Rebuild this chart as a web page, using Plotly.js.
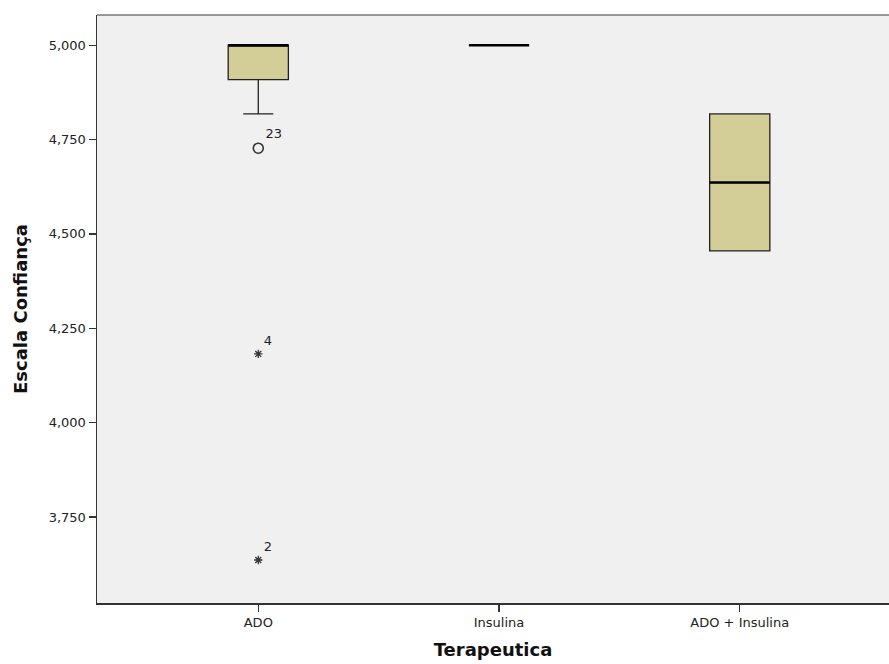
<!DOCTYPE html>
<html><head><meta charset="utf-8">
<script src="https://cdn.plot.ly/plotly-3.0.1.min.js"></script>
<style>html,body{margin:0;padding:0;background:#fff}</style>
</head><body><div id="chart" style="width:889px;height:664px"></div>
<script>
const categories = ["ADO", "Insulina", "ADO + Insulina"];
const q1 = [4.909, 5.0, 4.455];
const median = [5.0, 5.0, 4.636];
const q3 = [5.0, 5.0, 4.818];
const lowerFence = [4.818, 5.0, 4.455];
const upperFence = [5.0, 5.0, 4.818];
// outliers: category index, value, case label, type
const outlierCat = [0, 0, 0];
const outlierVal = [4.727, 4.182, 3.636];
const outlierLabel = ["23", "4", "2"];
const outlierType = ["mild", "extreme", "extreme"];
const yTickVals = [3.75, 4.0, 4.25, 4.5, 4.75, 5.0];
const yTickText = ["3,750", "4,000", "4,250", "4,500", "4,750", "5,000"];

const idx = categories.map((c, i) => i);
const boxW = 0.25;
const F = 'DejaVu Sans, Liberation Sans, Arial, sans-serif';
const traces = [{
  type: 'box', x: idx, q1: q1, median: median, q3: q3,
  lowerfence: lowerFence, upperfence: upperFence,
  width: boxW, whiskerwidth: 0.5,
  fillcolor: 'rgb(211,206,151)',
  line: {color: '#222', width: 1.3},
  boxpoints: false, hoverinfo: 'skip', showlegend: false
}];
// thicker median lines
const mx = [], my = [];
idx.forEach(i => { mx.push(i - boxW / 2, i + boxW / 2, null); my.push(median[i], median[i], null); });
traces.push({type: 'scatter', mode: 'lines', x: mx, y: my, line: {color: '#000', width: 2.6}, showlegend: false, hoverinfo: 'skip'});
const mild = outlierVal.map((v, i) => i).filter(i => outlierType[i] === 'mild');
const ext = outlierVal.map((v, i) => i).filter(i => outlierType[i] === 'extreme');
traces.push({type: 'scatter', mode: 'markers+text',
  x: mild.map(i => outlierCat[i]), y: mild.map(i => outlierVal[i]), text: mild.map(i => outlierLabel[i]),
  textposition: 'top right', textfont: {family: F, size: 13, color: '#222'},
  marker: {symbol: 'circle-open', size: 10, color: '#333', line: {width: 1.6, color: '#333'}},
  showlegend: false, cliponaxis: false});
traces.push({type: 'scatter', mode: 'markers+text',
  x: ext.map(i => outlierCat[i]), y: ext.map(i => outlierVal[i]), text: ext.map(i => outlierLabel[i]),
  textposition: 'top right', textfont: {family: F, size: 13, color: '#222'},
  marker: {symbol: 'asterisk-open', size: 7, color: '#333', line: {width: 1.3, color: '#333'}},
  showlegend: false, cliponaxis: false});

const layout = {
  width: 889, height: 664,
  margin: {l: 97, r: 0, t: 15, b: 61},
  paper_bgcolor: '#ffffff', plot_bgcolor: '#f0f0f0',
  font: {family: F, size: 13, color: '#222'},
  xaxis: {
    range: [-0.67, 2.62], tickmode: 'array', tickvals: idx, ticktext: categories,
    showgrid: false, zeroline: false, showline: true, linecolor: '#333', linewidth: 1.5,
    ticks: 'outside', ticklen: 7, tickcolor: '#333', tickwidth: 1.2,
    tickfont: {family: F, size: 13}, title: {text: '<b>Terapeutica</b>', font: {family: F, size: 18, color: '#111'}, standoff: 14}
  },
  yaxis: {
    range: [3.522, 5.08], tickmode: 'array', tickvals: yTickVals, ticktext: yTickText,
    showgrid: false, zeroline: false, showline: true, linecolor: '#333', linewidth: 1.5,
    ticks: 'outside', ticklen: 7, tickcolor: '#333', tickwidth: 1.2,
    tickfont: {family: F, size: 13}, title: {text: '<b>Escala Confiança</b>', font: {family: F, size: 18, color: '#111'}, standoff: 16}
  },
  shapes: [{type: 'line', xref: 'paper', yref: 'paper', x0: 0, x1: 1, y0: 1, y1: 1, line: {color: '#777', width: 1.5}}]
};
Plotly.newPlot('chart', traces, layout, {displayModeBar: false, staticPlot: true});
</script></body></html>
